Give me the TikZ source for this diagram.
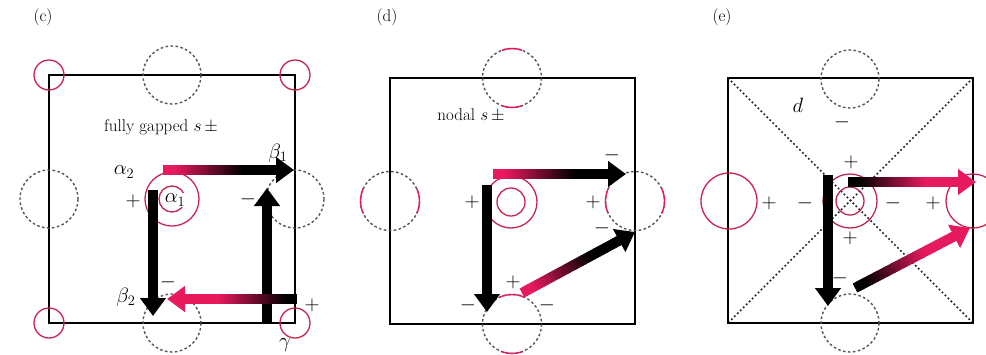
\documentclass[tikz,border=0pt]{standalone}
\usetikzlibrary{arrows.meta,calc}
\definecolor{arrowred}{RGB}{232,26,94}
\definecolor{ringred}{RGB}{200,38,80}
\definecolor{ringdark}{RGB}{185,42,78}
\definecolor{dashgray}{RGB}{85,85,85}
\newcommand{\gradarrow}[4]{%
  \coordinate (tb) at ($(#2)!18pt!(#1)$);
  \foreach \i in {1,...,40}{%
    \pgfmathsetmacro{\pa}{(\i-1)/40}%
    \pgfmathsetmacro{\pb}{min(1,(\i+0.6)/40)}%
    \pgfmathtruncatemacro{\pc}{100*max(0,min(1,((\i-0.5)/40-0.1)/0.6))}%
    \draw[line width=10pt, color=#4!\pc!#3] ($(#1)!\pa!(tb)$) -- ($(#1)!\pb!(tb)$);
  }%
  \draw[line width=10pt, color=#4, -{Triangle[width=25pt,length=18pt]}] ($(#2)!18.5pt!(#1)$) -- (#2);
}
\begin{document}
\begin{tikzpicture}[x=1pt,y=-1pt,
  bz/.style={draw=black, line width=1.4pt},
  ring/.style={draw=ringred, line width=1.3pt},
  dring/.style={draw=dashgray, line width=1.4pt, dash pattern=on 2.6pt off 2.4pt},
  redarc/.style={draw=arrowred, line width=1.4pt},
  diag/.style={draw=black!85, line width=1.6pt, dash pattern=on 1.8pt off 2.4pt},
  lab/.style={font=\fontsize{17}{20}\selectfont, inner sep=0pt},
  glab/.style={font=\fontsize{21}{24}\selectfont, inner sep=0pt},
  sgn/.style={font=\fontsize{21}{24}\selectfont, inner sep=0pt},
  blackarrow/.style={line width=10pt, -{Triangle[width=25pt,length=18pt]}},
]
\useasboundingbox (0,0) rectangle (986,354);
\clip (0,0) rectangle (986,354);

% ================= panel (c) =================
\node[lab] (tc) at (43,17) {(c)};
\coordinate (cTL) at (49,75);
\coordinate (cTR) at (295,75);
\coordinate (cBL) at (49,323);
\coordinate (cBR) at (295,323);
\coordinate (cC) at (172,199);
\coordinate (cT) at (172,75);
\coordinate (cL) at (49,199);
\coordinate (cR) at (295,199);
\coordinate (cB) at (172,323);
\draw[bz] (cTL) rectangle (cBR);
\foreach \p in {cTL,cTR,cBL,cBR} \draw[ring] (\p) circle[radius=15];
\foreach \p in {cT,cL,cR,cB} \draw[dring] (\p) circle[radius=29];
\draw[ring] (cC) circle[radius=13];
\draw[ring] (cC) circle[radius=27];
\coordinate (cA1s) at (163,170); \coordinate (cA1e) at (294,170);
\coordinate (cA2s) at (153,190); \coordinate (cA2e) at (153,316);
\coordinate (cA3s) at (267,322); \coordinate (cA3e) at (267,188);
\coordinate (cA4s) at (297,299); \coordinate (cA4e) at (167,299);
\gradarrow{cA1s}{cA1e}{arrowred}{black}
\draw[blackarrow] (cA2s) -- (cA2e);
\draw[blackarrow] (cA3s) -- (cA3e);
\gradarrow{cA4s}{cA4e}{black}{arrowred}
\node[lab] (cfg) at (161,127) {fully gapped $s\,\pm$};
\node[glab] (cb1) at (278,153) {$\beta_1$};
\node[glab] (ca2) at (124,172) {$\alpha_2$};
\node[glab, fill=white, inner sep=0.5pt] (ca1) at (175,200) {$\alpha_1$};
\node[sgn] (cs1) at (133,201) {$+$};
\node[sgn] (cs2) at (248,199) {$-$};
\node[sgn] (cs3) at (168,282) {$-$};
\node[glab] (cb2) at (126,297) {$\beta_2$};
\node[sgn] (cs4) at (312,305) {$+$};
\node[glab] (cg) at (285,345) {$\gamma$};

% ================= panel (d) =================
\node[lab] (td) at (387,17) {(d)};
\coordinate (dTL) at (390,78);
\coordinate (dBR) at (635,324);
\coordinate (dC) at (511,202);
\coordinate (dT) at (512,78);
\coordinate (dL) at (390,201);
\coordinate (dR) at (635,201);
\coordinate (dB) at (512,324);
\draw[bz] (dTL) rectangle (dBR);
\foreach \p in {dT,dL,dR,dB} \draw[dring] (\p) circle[radius=29.5];
\draw[redarc] ($(dT)+(250:29.5)$) arc[start angle=250, end angle=290, radius=29.5];
\draw[redarc] ($(dT)+(70:29.5)$) arc[start angle=70, end angle=110, radius=29.5];
\draw[redarc] ($(dL)+(155:29.5)$) arc[start angle=155, end angle=205, radius=29.5];
\draw[redarc] ($(dL)+(-25:29.5)$) arc[start angle=-25, end angle=25, radius=29.5];
\draw[redarc] ($(dR)+(155:29.5)$) arc[start angle=155, end angle=205, radius=29.5];
\draw[redarc] ($(dR)+(-25:29.5)$) arc[start angle=-25, end angle=25, radius=29.5];
\draw[redarc] ($(dB)+(245:29.5)$) arc[start angle=245, end angle=295, radius=29.5];
\draw[redarc] ($(dB)+(70:29.5)$) arc[start angle=70, end angle=110, radius=29.5];
\draw[ring] (dC) circle[radius=14];
\draw[ring] (dC) circle[radius=26];
\coordinate (dA1s) at (493,174); \coordinate (dA1e) at (626,174);
\coordinate (dA2s) at (487,185); \coordinate (dA2e) at (487,312);
\coordinate (dA3s) at (522,293); \coordinate (dA3e) at (635,232);
\gradarrow{dA1s}{dA1e}{arrowred}{black}
\draw[blackarrow] (dA2s) -- (dA2e);
\gradarrow{dA3s}{dA3e}{arrowred}{black}
\node[lab] (dns) at (471,115) {nodal $s\,\pm$};
\node[sgn] (ds1) at (612,155) {$-$};
\node[sgn] (ds2) at (472,202) {$+$};
\node[sgn] (ds3) at (593,202) {$+$};
\node[sgn] (ds4) at (602,228) {$-$};
\node[sgn] (ds5) at (513,282) {$+$};
\node[sgn] (ds6) at (468,305) {$-$};
\node[sgn] (ds7) at (547,305) {$-$};

% ================= panel (e) =================
\node[lab] (te) at (722,17) {(e)};
\coordinate (eTL) at (728,78);
\coordinate (eTR) at (973,78);
\coordinate (eBL) at (728,323);
\coordinate (eBR) at (973,323);
\coordinate (eC) at (850,201);
\coordinate (eT) at (850,79);
\coordinate (eB) at (850,323);
\coordinate (eL) at (729,201);
\coordinate (eR) at (973,201);
\draw[diag] (eTL) -- (eBR);
\draw[diag] (eTR) -- (eBL);
\draw[bz] (eTL) rectangle (eBR);
\foreach \p in {eT,eB} \draw[dring] (\p) circle[radius=29];
\draw[ring] (eL) circle[radius=28];
\draw[ring] (eR) circle[radius=27];
\draw[draw=ringdark, line width=1.3pt] (eC) circle[radius=14];
\draw[draw=ringdark, line width=1.3pt] (eC) circle[radius=27];
\coordinate (eA1s) at (828,175); \coordinate (eA1e) at (828,306);
\coordinate (eA2s) at (848,182); \coordinate (eA2e) at (976,182);
\coordinate (eA3s) at (855,288); \coordinate (eA3e) at (970,228);
\draw[blackarrow] (eA1s) -- (eA1e);
\gradarrow{eA2s}{eA2e}{black}{arrowred}
\gradarrow{eA3s}{eA3e}{black}{arrowred}
\node[glab] (ed) at (798,105) {$d$};
\node[sgn] (es1) at (842,122) {$-$};
\node[sgn] (es2) at (851,162) {$+$};
\node[sgn] (es3) at (769,203) {$+$};
\node[sgn] (es4) at (805,203) {$-$};
\node[sgn] (es5) at (893,203) {$-$};
\node[sgn] (es6) at (933,203) {$+$};
\node[sgn] (es7) at (850,238) {$+$};
\node[sgn] (es8) at (840,278) {$-$};
\end{tikzpicture}
\end{document}
